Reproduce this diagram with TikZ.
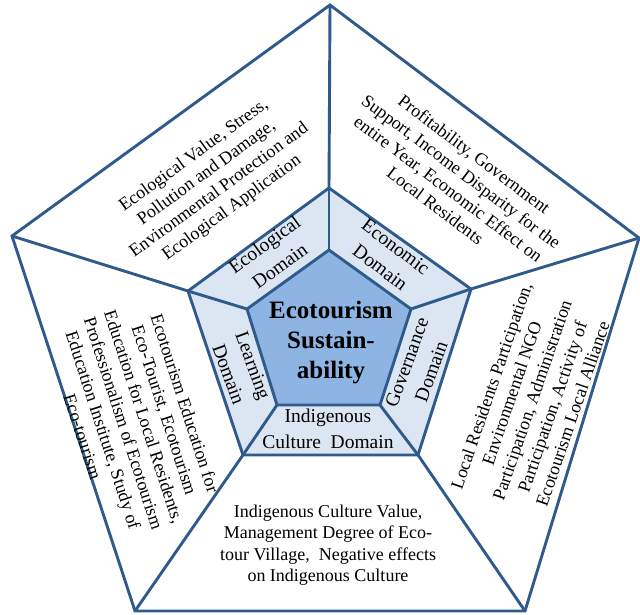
\documentclass[tikz,border=0pt]{standalone}
\usepackage{fontspec}
\setmainfont{Liberation Serif}
\definecolor{edge}{HTML}{2F5A8C}
\definecolor{ringfill}{HTML}{DCE6F2}
\definecolor{corefill}{HTML}{8DB4E2}
\begin{document}
\begin{tikzpicture}[x=1pt,y=1pt,
  wall/.style={draw=edge, line width=2.9pt, line join=miter},
  outertext/.style={align=center, font=\fontsize{18}{21.5}\selectfont, inner sep=0pt},
  domaintext/.style={align=center, font=\fontsize{19.5}{26}\selectfont, inner sep=0pt},
  coretext/.style={align=center, font=\fontsize{25}{30}\selectfont\bfseries, inner sep=0pt}]
\useasboundingbox (0,0) rectangle (640,614);

% outer pentagon
\coordinate (O1) at (330,609);
\coordinate (O2) at (639,376);
\coordinate (O3) at (525,3);
\coordinate (O4) at (135,3);
\coordinate (O5) at (12,378);
% domain ring
\coordinate (M1) at (329,426);
\coordinate (M2) at (471,325);
\coordinate (M3) at (418,159);
\coordinate (M4) at (243,159);
\coordinate (M5) at (188,323);
% core
\coordinate (I1) at (329,364);
\coordinate (I2) at (411,305);
\coordinate (I3) at (380,209);
\coordinate (I4) at (277,209);
\coordinate (I5) at (247,305);

\fill[ringfill] (M1)--(M2)--(M3)--(M4)--(M5)--cycle;
\fill[corefill] (I1)--(I2)--(I3)--(I4)--(I5)--cycle;

\draw[wall] (O1)--(O2)--(O3)--(O4)--(O5)--cycle;
\draw[wall] (M1)--(M2)--(M3)--(M4)--(M5)--cycle;
\draw[wall] (I1)--(I2)--(I3)--(I4)--(I5)--cycle;
\foreach \k in {1,...,5}{
  \draw[wall] (I\k)--(M\k);
  \draw[wall] (M\k)--(O\k);
}

% core label
\node[coretext] (core) at (331,271) {Ecotourism\\Sustain-\\ability};

% domain labels
\node[domaintext, rotate=36] (eco) at (272,359) {Ecological\\Domain};
\node[domaintext, rotate=-37] (econ) at (388,357) {Economic\\Domain};
\node[domaintext, rotate=70] (gov) at (419,247) {Governance\\Domain};
\node[domaintext, rotate=-70] (learn) at (241,244) {Learning\\Domain};
\node[domaintext] (indig) at (328,185) {Indigenous\\Culture\ \ Domain};

% indicator lists
\node[outertext, rotate=36] (ecoind) at (213,432)
  {Ecological Value, Stress,\\Pollution and Damage,\\Environmental Protection and\\Ecological Application};
\node[outertext, rotate=-37] (econind) at (455,434)
  {Profitability, Government\\Support, Income Disparity for the\\entire Year, Economic Effect on\\Local Residents};
\node[outertext, rotate=71] (govind) at (532,214)
  {Local Residents Participation,\\Environmental NGO\\Participation, Administration\\Participation, Activity of\\Ecotourism Local Alliance};
\node[outertext, rotate=-72] (learnind) at (134,194)
  {Ecotourism Education for\\Eco-Tourist, Ecotourism\\Education for Local Residents,\\Professionalism of Ecotourism\\Education Institute, Study of\\Eco-tourism};
\node[outertext] (indigind) at (328,69)
  {Indigenous Culture Value,\\Management Degree of Eco-\\tour Village,\ \ Negative effects\\on Indigenous Culture};
\end{tikzpicture}
\end{document}
